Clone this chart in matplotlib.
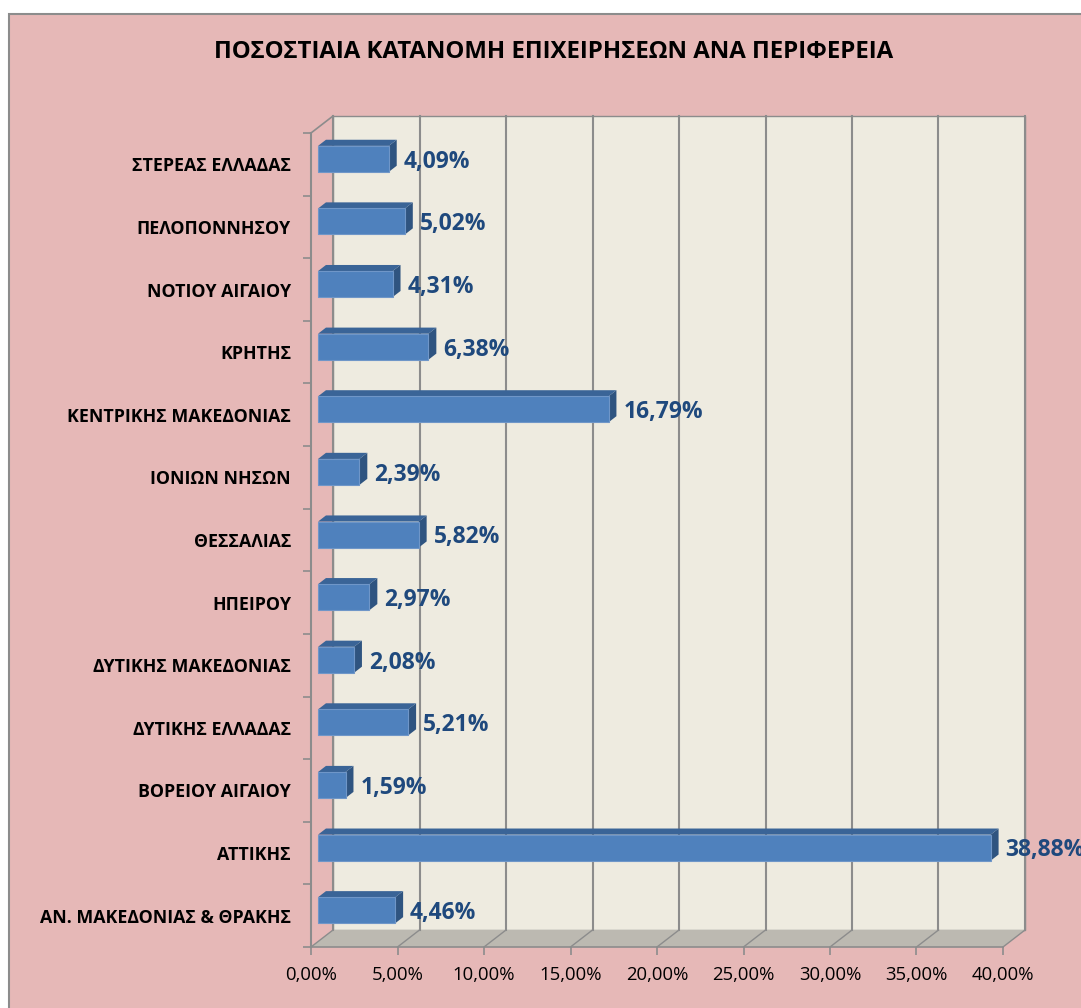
import numpy as np
import matplotlib
matplotlib.use('Agg')
import matplotlib.pyplot as plt
from matplotlib.patches import Rectangle, Polygon

# data (bottom to top)
regions = ['ΑΝ. ΜΑΚΕΔΟΝΙΑΣ & ΘΡΑΚΗΣ', 'ΑΤΤΙΚΗΣ', 'ΒΟΡΕΙΟΥ ΑΙΓΑΙΟΥ', 'ΔΥΤΙΚΗΣ ΕΛΛΑΔΑΣ',
           'ΔΥΤΙΚΗΣ ΜΑΚΕΔΟΝΙΑΣ', 'ΗΠΕΙΡΟΥ', 'ΘΕΣΣΑΛΙΑΣ', 'ΙΟΝΙΩΝ ΝΗΣΩΝ',
           'ΚΕΝΤΡΙΚΗΣ ΜΑΚΕΔΟΝΙΑΣ', 'ΚΡΗΤΗΣ', 'ΝΟΤΙΟΥ ΑΙΓΑΙΟΥ', 'ΠΕΛΟΠΟΝΝΗΣΟΥ', 'ΣΤΕΡΕΑΣ ΕΛΛΑΔΑΣ']
shares = [4.46, 38.88, 1.59, 5.21, 2.08, 2.97, 5.82, 2.39, 16.79, 6.38, 4.31, 5.02, 4.09]
xticks = [0, 5, 10, 15, 20, 25, 30, 35, 40]
title = 'ΠΟΣΟΣΤΙΑΙΑ ΚΑΤΑΝΟΜΗ ΕΠΙΧΕΙΡΗΣΕΩΝ ΑΝΑ ΠΕΡΙΦΕΡΕΙΑ'

plt.rcParams['font.family'] = ['Open Sans', 'DejaVu Sans']

W, H = 1081, 1008
fig = plt.figure(figsize=(W / 100, H / 100), dpi=100)
fig.patch.set_facecolor('white')
fig.patches.append(Rectangle((9 / W, -0.01), 1.01, 1 - 14 / H + 0.01, transform=fig.transFigure,
                             facecolor='#E6B8B7', edgecolor='#8C8C8C', linewidth=1.5, zorder=-10))

# front plane of the plot in pixels
x0, x1, ytop, ybot = 311, 1003, 133, 947
ax = fig.add_axes([x0 / W, 1 - ybot / H, (x1 - x0) / W, (ybot - ytop) / H])
ax.set_facecolor('none')
n = len(regions)
ax.set_xlim(0, 40)
ax.set_ylim(-0.5, n - 0.5)
for s in ax.spines.values():
    s.set_visible(False)

pxx = (x1 - x0) / 40.0
pxy = (ybot - ytop) / n
dx, dy = 22 / pxx, 17 / pxy  # depth of the 3d box
lo, hi = -0.5, n - 0.5
grid = '#8C8C8C'

# back wall and floor
ax.add_patch(Polygon([(dx, lo + dy), (40 + dx, lo + dy), (40 + dx, hi + dy), (dx, hi + dy)],
                     closed=True, facecolor='#EEEBE0', edgecolor=grid, lw=1, clip_on=False, zorder=1))
ax.add_patch(Polygon([(0, lo), (40, lo), (40 + dx, lo + dy), (dx, lo + dy)],
                     closed=True, facecolor='#BCB9B1', edgecolor='none', clip_on=False, zorder=1))
for t in xticks:
    ax.plot([t + dx, t + dx], [lo + dy, hi + dy], color=grid, lw=1.5, clip_on=False, zorder=2)
    ax.plot([t, t + dx], [lo, lo + dy], color=grid, lw=1, clip_on=False, zorder=2)
ax.plot([0, 40], [lo, lo], color=grid, lw=1.2, clip_on=False, zorder=2)
ax.plot([0, 0], [lo, hi], color=grid, lw=1.5, clip_on=False, zorder=2)
ax.plot([0, dx], [hi, hi + dy], color=grid, lw=1.2, clip_on=False, zorder=2)

# bars
f1, f2 = 0.32, 0.68
ox, oy = f1 * dx, f1 * dy
bdx, bdy = (f2 - f1) * dx, (f2 - f1) * dy
h = 26 / pxy
for i, v in enumerate(shares):
    b, t = i - h / 2 + oy, i + h / 2 + oy
    ax.add_patch(Polygon([(ox + v, b), (ox + v, t), (ox + v + bdx, t + bdy), (ox + v + bdx, b + bdy)],
                         closed=True, facecolor='#2F5480', edgecolor='none', clip_on=False, zorder=3))
    ax.add_patch(Polygon([(ox, t), (ox + v, t), (ox + v + bdx, t + bdy), (ox + bdx, t + bdy)],
                         closed=True, facecolor='#3A6497', edgecolor='none', clip_on=False, zorder=3))
    ax.add_patch(Rectangle((ox, b), v, h, facecolor='#4F81BD', edgecolor='#6F96C8', lw=0.8,
                           clip_on=False, zorder=4))
    ax.text(ox + v + bdx + 7 / pxx, i + oy - 0.045, ('%.2f%%' % v).replace('.', ','),
            ha='left', va='center', fontsize=16.5, fontweight='bold', color='#1F497D',
            clip_on=False, zorder=5)

# axes ticks and labels
ax.set_xticks(xticks)
ax.set_xticklabels([('%.2f%%' % t).replace('.', ',') for t in xticks], fontsize=13.3)
ax.tick_params(axis='x', length=6, color=grid, width=1.2, pad=8)
ax.set_yticks(np.arange(lo, hi + 0.01, 1.0))
ax.set_yticklabels([])
ax.tick_params(axis='y', which='major', length=6, color=grid, width=1.2)
ax.set_yticks(np.arange(n), minor=True)
ax.set_yticklabels(regions, minor=True, fontsize=12.8, fontweight='bold')
ax.tick_params(axis='y', which='minor', length=0, pad=14.4)

fig.text(554 / W, 1 - 52 / H, title, ha='center', va='center', fontsize=17.3, fontweight='bold')

fig.savefig('out.png', dpi=100)
